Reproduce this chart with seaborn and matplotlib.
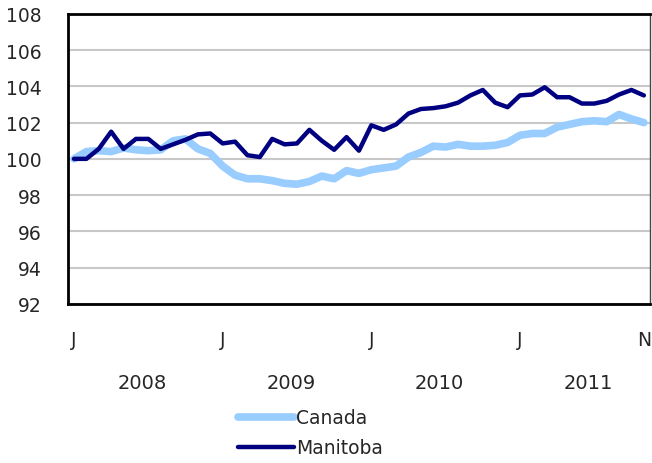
import matplotlib
matplotlib.use("Agg")
import matplotlib.pyplot as plt
import matplotlib.transforms as mtransforms
import seaborn as sns
import pandas as pd
import numpy as np

# monthly index, January 2008 to November 2011
months = list(range(47))
canada = [100.0, 100.4, 100.45, 100.4, 100.6, 100.5, 100.45, 100.5, 101.0, 101.1,
          100.55, 100.3, 99.6, 99.1, 98.9, 98.9, 98.8, 98.65, 98.6, 98.75,
          99.05, 98.9, 99.35, 99.2, 99.4, 99.5, 99.6, 100.1, 100.35, 100.7,
          100.65, 100.8, 100.7, 100.7, 100.75, 100.9, 101.3, 101.4, 101.4, 101.75,
          101.9, 102.05, 102.1, 102.05, 102.45, 102.2, 102.0]
manitoba = [100.0, 100.0, 100.55, 101.5, 100.55, 101.1, 101.1, 100.55, 100.8, 101.05,
            101.35, 101.4, 100.85, 100.95, 100.2, 100.1, 101.1, 100.8, 100.85, 101.6,
            101.0, 100.5, 101.2, 100.45, 101.85, 101.6, 101.9, 102.5, 102.75, 102.8,
            102.9, 103.1, 103.5, 103.8, 103.1, 102.85, 103.5, 103.55, 103.95, 103.4,
            103.4, 103.05, 103.05, 103.2, 103.55, 103.8, 103.5]
tick_pos = [0, 12, 24, 36, 46]
tick_labels = ["J", "J", "J", "J", "N"]
years = ["2008", "2009", "2010", "2011"]

df = pd.DataFrame({
    "month": months * 2,
    "value": canada + manitoba,
    "region": ["Canada"] * len(months) + ["Manitoba"] * len(months),
})

sns.set_style("white")
plt.rcParams["font.family"] = ["DejaVu Sans"]

fig = plt.figure(figsize=(6.52, 4.64), dpi=100)
ax = fig.add_axes([0.104, 0.343, 0.893, 0.625])

palette = {"Canada": "#99ccff", "Manitoba": "#000080"}
sns.lineplot(data=df, x="month", y="value", hue="region", palette=palette,
             ax=ax, legend=False, solid_capstyle="round")
ax.lines[0].set_linewidth(5.5)
ax.lines[1].set_linewidth(3.2)
ax.lines[1].set_zorder(3)

ax.set_ylim(92, 108)
ax.set_yticks(range(92, 109, 2))
ax.set_xlim(-0.5, 46.5)
ax.set_xlabel("")
ax.set_ylabel("")
ax.yaxis.grid(True, color="#c8c8c8", linewidth=1.5)
ax.set_axisbelow(True)

ax.set_xticks(tick_pos)
ax.set_xticklabels(tick_labels)
ax.set_xticks(np.arange(-0.5, 47, 1), minor=True)
ax.tick_params(axis="x", which="major", length=0, pad=19, labelsize=13.5)
ax.tick_params(axis="x", which="minor", direction="in", length=5, width=1.2, color="black")
ax.tick_params(axis="y", length=0, pad=19, labelsize=13.5)

for side in ["left", "bottom", "top"]:
    ax.spines[side].set_color("black")
    ax.spines[side].set_linewidth(2)
ax.spines["right"].set_color("#444444")
ax.spines["right"].set_linewidth(1)

trans = mtransforms.blended_transform_factory(ax.transData, ax.transAxes)
for k, yr in enumerate(years):
    ax.text(12 * k + 5.5, -0.27, yr, transform=trans, ha="center", va="center",
            fontsize=14)

handles = [plt.Line2D([], [], color=palette["Canada"], lw=5.5, solid_capstyle="round"),
           plt.Line2D([], [], color=palette["Manitoba"], lw=3.2, solid_capstyle="round")]
fig.legend(handles, ["Canada", "Manitoba"], loc="upper left",
           bbox_to_anchor=(0.365, 0.118), frameon=False, fontsize=13.5,
           handlelength=3.0, handletextpad=0.1, labelspacing=0.6,
           borderaxespad=0, borderpad=0)

fig.savefig("out.png", dpi=100)
